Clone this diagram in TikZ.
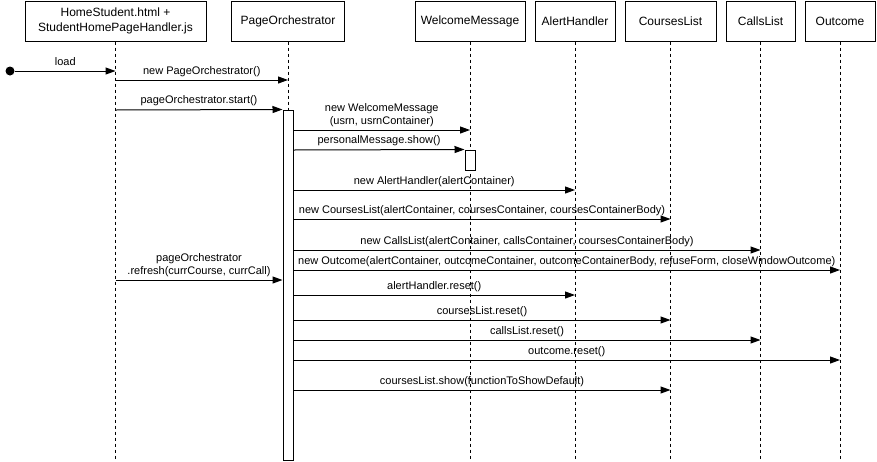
\documentclass[tikz,border=0pt]{standalone}
\usepackage{fontspec}
\setmainfont{Liberation Sans}
\usetikzlibrary{arrows.meta}

\begin{document}
\begin{tikzpicture}[x=1pt, y=-1pt, line width=1pt,
	every node/.style={font=\fontsize{11}{13}\selectfont},
	actor/.style={draw, minimum height=40, inner sep=0pt, align=center, font=\fontsize{12}{15}\selectfont},
	lifeline/.style={dash pattern=on 3pt off 3pt},
	msg/.style={-{Triangle[length=10pt,width=7pt]}},
	lbl/.style={midway, anchor=base, yshift=6pt, inner sep=0pt},
	lbltwo/.style={midway, anchor=south, yshift=3pt, inner sep=0pt, align=center},
	actbar/.style={draw, fill=white, minimum width=10, inner sep=0pt}]
	
	\useasboundingbox (0,0) rectangle (877,461);
	
	% --- participants ---
	\node[actor, minimum width=181] (hs) at (115.5,21) {HomeStudent.html +\\StudentHomePageHandler.js};
	\node[actor, minimum width=113] (po) at (288,21)   {PageOrchestrator};
	\node[actor, minimum width=110] (wm) at (470,21)   {WelcomeMessage};
	\node[actor, minimum width=80]  (ah) at (575,21)   {AlertHandler};
	\node[actor, minimum width=91]  (cl) at (670.5,21) {CoursesList};
	\node[actor, minimum width=69]  (ca) at (760.5,21) {CallsList};
	\node[actor, minimum width=70]  (oc) at (840,21)   {Outcome};
	
	% lifelines
	\foreach \a in {hs,po,wm,ah,cl,ca,oc}{
		\draw[lifeline] (\a.south) -- (\a.south |- 0,461);
	}
	
	% activation bars
	\node[actbar, minimum height=350] (bpo) at (288,285) {};
	\node[actbar, minimum height=20]  (bwm) at (470,160) {};
	
	% initial state
	\node[circle, fill, minimum size=9, inner sep=0pt] (start) at (10,71) {};
	
	% --- messages ---
	\draw[msg] (start) -- (hs.south |- 0,71) node[lbl] {load};
	\draw[msg] (hs.south |- 0,80) -- (po.south |- 0,80) node[lbl] {new PageOrchestrator()};
	\draw[msg] (hs.south |- 0,110) -- (bpo.north west) node[lbl] {pageOrchestrator.start()};
	
	\draw[msg] (bpo.east |- 0,130) -- (wm.south |- 0,130) node[lbltwo] {new WelcomeMessage\\(usrn, usrnContainer)};
	\draw[msg] (bpo.east |- 0,150) -- (bwm.north west) node[lbl] {personalMessage.show()};
	\draw[msg] (bpo.east |- 0,190) -- (ah.south |- 0,190) node[lbl] {new AlertHandler(alertContainer)};
	\draw[msg] (bpo.east |- 0,219) -- (cl.south |- 0,219) node[lbl] {new CoursesList(alertContainer, coursesContainer, coursesContainerBody)};
	\draw[msg] (bpo.east |- 0,250) -- (ca.south |- 0,250) node[lbl] {new CallsList(alertContainer, callsContainer, coursesContainerBody)};
	\draw[msg] (bpo.east |- 0,270) -- (oc.south |- 0,270) node[lbl] {new Outcome(alertContainer, outcomeContainer, outcomeContainerBody, refuseForm, closeWindowOutcome)};
	
	% refresh
	\draw[msg] (hs.south |- 0,280) -- (bpo.west |- 0,280) node[lbltwo] {pageOrchestrator\\.refresh(currCourse, currCall)};
	
	\draw[msg] (bpo.east |- 0,295) -- (ah.south |- 0,295) node[lbl] {alertHandler.reset()};
	\draw[msg] (bpo.east |- 0,320) -- (cl.south |- 0,320) node[lbl] {coursesList.reset()};
	\draw[msg] (bpo.east |- 0,340) -- (ca.south |- 0,340) node[lbl] {callsList.reset()};
	\draw[msg] (bpo.east |- 0,360) -- (oc.south |- 0,360) node[lbl] {outcome.reset()};
	\draw[msg] (bpo.east |- 0,390) -- (cl.south |- 0,390) node[lbl] {coursesList.show(functionToShowDefault)};
	
\end{tikzpicture}
\end{document}
